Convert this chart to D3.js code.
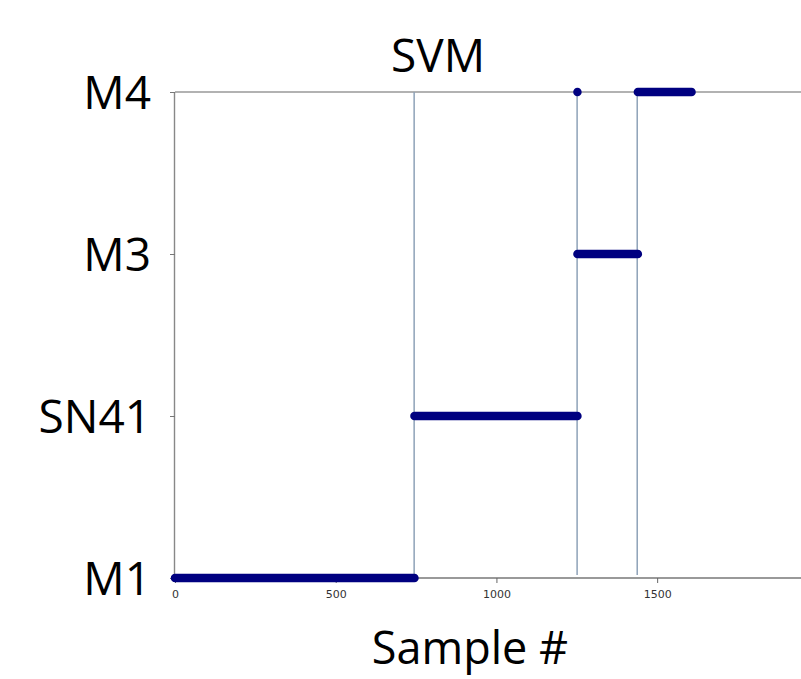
<!DOCTYPE html>
<html>
<head>
<meta charset="utf-8">
<script src="https://cdn.jsdelivr.net/npm/d3@7"></script>
<style>
  html, body { margin: 0; padding: 0; background: #fff; }
  svg { display: block; }
</style>
</head>
<body>
<svg id="chart" width="801" height="679"></svg>
<script>
// ---- data ----
const classes = ["M1", "SN41", "M3", "M4"];
const xTicks = [0, 500, 1000, 1500];
// prediction runs: [start sample, end sample, class]
const runStart = [0, 745, 1252, 1252, 1440];
const runEnd   = [745, 1252, 1252, 1440, 1607];
const runClass = ["M1", "SN41", "M4", "M3", "M4"];
// sample indices where the true class changes
const boundaries = [744, 1251, 1438];
const title = "SVM";
const xLabel = "Sample #";

// ---- chart ----
const svg = d3.select("#chart");
const x = d3.scaleLinear().domain([0, 2000]).range([175, 175 + 2000 * 0.32143]);
const y = d3.scalePoint().domain(classes).range([578, 92]);

// spines
svg.append("line").attr("x1", 175).attr("x2", 801).attr("y1", y("M4")).attr("y2", y("M4"))
  .attr("stroke", "#999").attr("stroke-width", 1.6);
svg.append("line").attr("x1", 174.5).attr("x2", 174.5).attr("y1", y("M4")).attr("y2", y("M1"))
  .attr("stroke", "#888").attr("stroke-width", 1.4);

// x axis
const xAxis = d3.axisBottom(x).tickValues(xTicks).tickFormat(d3.format("d"))
  .tickSize(5).tickPadding(7).tickSizeOuter(0);
const gx = svg.append("g").attr("transform", `translate(0,${y("M1")})`).call(xAxis);
gx.select(".domain").attr("stroke", "#777").attr("stroke-width", 1.4).attr("d", `M175,0H801`);
gx.selectAll(".tick line").attr("stroke", "#666");
gx.selectAll(".tick text").attr("fill", "#333").attr("font-family", "DejaVu Sans").attr("font-size", 11);

// y axis (ticks + big labels)
const yAxis = d3.axisLeft(y).tickSize(5).tickPadding(19).tickSizeOuter(0);
const gy = svg.append("g").attr("transform", "translate(175,0)").call(yAxis);
gy.select(".domain").remove();
gy.selectAll(".tick line").attr("stroke", "#777");
gy.selectAll(".tick text").attr("fill", "#000").attr("font-family", "Open Sans")
  .attr("font-size", 46).attr("dy", "0.36em");

// boundary lines
svg.append("g").selectAll("line").data(boundaries).join("line")
  .attr("x1", d => x(d)).attr("x2", d => x(d))
  .attr("y1", y("M4")).attr("y2", y("M1") - 3)
  .attr("stroke", "#8ea2b8").attr("stroke-width", 1.5);

// prediction markers
const runs = runStart.map((s, i) => ({ s, e: runEnd[i], c: runClass[i] }));
svg.append("g").selectAll("line").data(runs).join("line")
  .attr("x1", d => x(d.s)).attr("x2", d => x(d.e))
  .attr("y1", d => y(d.c)).attr("y2", d => y(d.c))
  .attr("stroke", "#000080").attr("stroke-width", 8.5).attr("stroke-linecap", "round");

// title & x label
svg.append("text").attr("x", 438).attr("y", 72).attr("text-anchor", "middle")
  .attr("font-family", "Open Sans").attr("font-size", 46).text(title);
svg.append("text").attr("x", 470).attr("y", 664).attr("text-anchor", "middle")
  .attr("font-family", "Open Sans").attr("font-size", 45).text(xLabel);
</script>
</body>
</html>
